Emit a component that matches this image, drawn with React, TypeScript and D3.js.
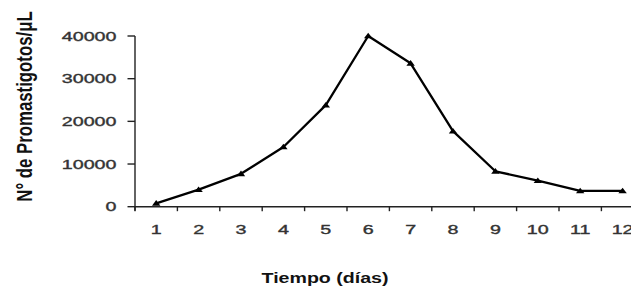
import React from "react";
import * as d3 from "d3";

const days: number[] = [1, 2, 3, 4, 5, 6, 7, 8, 9, 10, 11, 12];
const counts: number[] = [800, 4000, 7700, 14000, 23800, 40000, 33600, 17700, 8300, 6100, 3700, 3700];
const yTicks: number[] = [0, 10000, 20000, 30000, 40000];
const xTitle = "Tiempo (días)";
const yTitle = "N° de Promastigotos/μL";

const W = 631;
const H = 288;
const SX = 1.6;

export default function App() {
  const x = d3.scaleBand<number>().domain(days).range([135, 135 + 12 * 42.4]).padding(0);
  const y = d3.scaleLinear().domain([0, 40000]).range([206.7, 36]);
  const line = d3
    .line<number>()
    .x((_, i) => (x(days[i]) as number) + x.bandwidth() / 2)
    .y((d) => y(d));
  const tri = d3.symbol().type(d3.symbolTriangle).size(18)() as string;
  const font = "'Liberation Sans', Arial, sans-serif";
  const y0 = y(0);
  const boundaries = days.map((d) => x(d) as number).concat([(x(12) as number) + x.bandwidth()]);

  return (
    <svg
      width={W}
      height={H}
      style={{ position: "absolute", left: 0, top: 0, background: "#fff" }}
      fontFamily={font}
    >
      <rect x={0} y={0} width={W} height={H} fill="#fff" />
      {/* y axis */}
      <line x1={135} x2={135} y1={y(40000)} y2={y0 + 4} stroke="#222" strokeWidth={1.4} />
      {yTicks.map((t) => (
        <g key={t}>
          <line x1={127.5} x2={135} y1={y(t)} y2={y(t)} stroke="#222" strokeWidth={1.4} />
          <text
            transform={`translate(116.5,${y(t) + 4.5}) scale(${SX},1)`}
            textAnchor="end"
            fontSize={12.3}
            fill="#333"
            stroke="#333"
            strokeWidth={0.35}
          >
            {t}
          </text>
        </g>
      ))}
      {/* x axis */}
      <line x1={134.3} x2={W} y1={y0} y2={y0} stroke="#222" strokeWidth={1.4} />
      {boundaries.map((b, i) => (
        <line key={i} x1={b} x2={b} y1={y0} y2={y0 + 4.5} stroke="#222" strokeWidth={1.4} />
      ))}
      {days.map((d) => (
        <text
          key={d}
          transform={`translate(${(x(d) as number) + x.bandwidth() / 2},234) scale(${SX},1)`}
          textAnchor="middle"
          fontSize={12.3}
          fill="#333"
          stroke="#333"
          strokeWidth={0.35}
        >
          {d}
        </text>
      ))}
      {/* series */}
      <path d={line(counts) || ""} fill="none" stroke="#000" strokeWidth={2.3} strokeLinejoin="round" />
      {counts.map((c, i) => (
        <path
          key={i}
          d={tri}
          fill="#000"
          transform={`translate(${(x(days[i]) as number) + x.bandwidth() / 2},${y(c) + 0.5}) scale(1.3,1)`}
        />
      ))}
      {/* titles */}
      <text
        transform={`translate(325,283) scale(1.4,1)`}
        textAnchor="middle"
        fontSize={14}
        fontWeight="bold"
        fill="#111"
      >
        {xTitle}
      </text>
      <text
        transform={`translate(31.5,106.5) scale(1.33,1) rotate(-90)`}
        textAnchor="middle"
        fontSize={16.8}
        fontWeight="bold"
        fill="#111"
      >
        {yTitle}
      </text>
    </svg>
  );
}
